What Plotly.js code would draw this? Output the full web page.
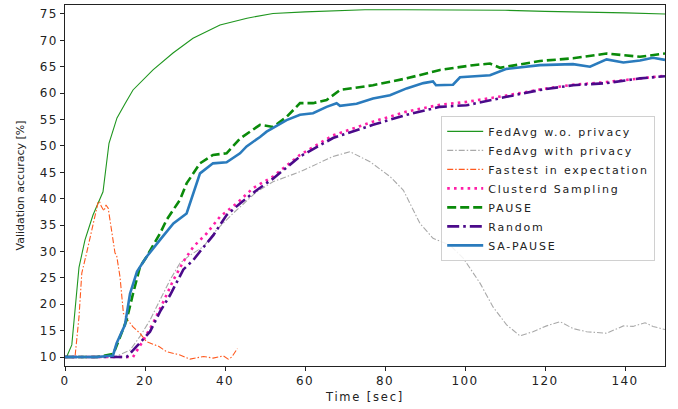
<!DOCTYPE html>
<html><head><meta charset="utf-8">
<script src="https://cdn.plot.ly/plotly-3.0.1.min.js"></script>
<style>
html,body{margin:0;padding:0;background:#fff}#c{width:678px;height:409px}
.legendtext{letter-spacing:1.8px}
.xtick text,.ytick text{letter-spacing:1.3px}
.xtitle{letter-spacing:1.8px}
</style>
</head><body><div id="c"></div>
<script>
// FedAvg w.o. privacy
const noPrivX = [0.4,1.7,3.5,5,7,9.5,11,13,15,17,22,27,32,38.75,45.5,52,60,67,75,85,100,110,120,130,140,150];
const noPrivY = [10,12.3,27,32.2,36.9,41.3,50.5,55.3,58,60.6,64.4,67.6,70.4,72.9,74.2,75.1,75.4,75.6,75.8,75.8,75.8,75.7,75.5,75.4,75.2,75.0];
// FedAvg with privacy
const privX = [0,5,10,13,16.25,18.75,21.25,23.75,26.25,28.75,31.25,34.6,37.9,42,47.9,52,58.75,67,71.25,76.25,81.25,84.6,88.75,92,96.25,99.6,103.75,107,110.4,113.75,117,120.4,123.75,127,130.4,135.4,139.6,142,145,147,150];
const privY = [10,10,10,10.2,11.3,13.9,17,20.8,24.6,27.8,29.3,30.9,34.1,37.2,41.3,43.2,45.1,48,48.9,47,44.2,41.6,35.3,32.5,31.2,28.7,24,19.5,16.1,14,14.8,15.9,16.7,15.4,14.8,14.5,15.9,15.8,16.5,15.8,15.2];
// Fastest in expectation
const fastX = [0,2.5,3.5,4.2,5.4,6.7,8.3,8.6,9.1,9.75,10.25,10.8,11.7,12.5,12.9,13.75,14.6,15.4,17,18.75,20.4,23.5,25.4,28.75,31.25,34.6,37,39.6,40.8,41.7,43.1];
const fastY = [10,10,17.6,25.9,29.7,34,39.4,39.5,38.5,37.7,38.8,38.2,33.5,29.7,29.3,25.2,18.3,17.3,15.7,14.5,12.9,12,11,10.4,9.6,10.1,9.8,10.2,9.6,10,11.6];
// Clusterd Sampling
const clusX = [0,10,17,19.6,22,24.6,27.1,29.6,32.1,35.4,38.75,42.9,47,52,58.75,67,77,85.4,93.75,100,110,118.75,127,135.4,143.75,150];
const clusY = [10,10,10,13.2,16.4,20.5,24.6,28.1,30.9,33.4,36.6,39.1,42,44.2,48.3,52,54.6,56.5,57.8,58.3,59.5,60.7,61.6,62.1,62.8,63.3];
// PAUSE
const pauseX = [0,8,12.1,13.75,15.4,17,18.75,20.4,23.75,25.4,28.75,30.4,33.75,37,40.4,43.75,48.75,52,55.4,58.75,62,65.4,68.75,77,85.4,93.75,102,106.25,108.75,118.75,127,135.4,143.75,150];
const pauseY = [10,10,10.6,13.9,17,22,27.1,29,33.4,36,39.8,42.9,46.7,48.3,48.6,51.4,54,53.6,55.5,58.1,58.1,58.7,60.6,61.5,62.8,64.4,65.3,65.6,64.8,66.1,66.6,67.5,66.9,67.5];
// Random
const randX = [0,10,15.4,17.9,21.25,23.75,26.25,29.6,32.1,33.75,37.1,40.4,43.75,47.9,52,58.75,67,77,85.4,93.75,100.4,110.4,118.75,127,135.4,143.75,150];
const randY = [10,10,10,12,14.8,18.6,21.7,26.6,28.4,30,33.1,36.9,39.1,41.6,43.8,48,51.5,54,55.9,57.4,57.7,59.3,60.6,61.5,61.9,62.8,63.2];
// SA-PAUSE
const saX = [0,8,12,12.9,15,16.25,18,20.4,23.75,27.1,30.4,32,33.75,37,40.4,43.75,45.4,48.75,50.4,55.4,58.75,62,65.4,67.9,68.75,72.9,77,81.25,85.4,89.6,92,92.75,97,98.75,106.25,110.4,118.75,127,131.25,135.4,139.6,143.75,147,150];
const saY = [10,10,10.3,12.6,16.1,22,26.2,29,32.2,35.3,37.2,41,44.8,46.7,46.9,48.6,49.9,51.7,52.7,54.9,55.9,56.2,57.4,58.1,57.6,58,59,59.6,60.9,61.9,62.2,61.5,61.6,63,63.4,64.6,65.3,65.5,65,66.4,65.8,66.2,66.7,66.3];

const xTicks = [0,20,40,60,80,100,120,140];
const yTicks = [10,15,20,25,30,35,40,45,50,55,60,65,70,75];

const traces = [
  {x: noPrivX, y: noPrivY, name: 'FedAvg w.o. privacy', line: {color: '#1f961f', width: 1.1}},
  {x: privX, y: privY, name: 'FedAvg with privacy', line: {color: '#a9a9a9', width: 1.1, dash: '6px,2px,1.5px,2px'}},
  {x: fastX, y: fastY, name: 'Fastest in expectation', line: {color: '#ff5a1f', width: 1.1, dash: '6px,2px,1.5px,2px'}},
  {x: clusX, y: clusY, name: 'Clusterd Sampling', line: {color: '#ff1fa8', width: 2.6, dash: '2.6px,4.2px'}},
  {x: pauseX, y: pauseY, name: 'PAUSE', line: {color: '#0a8a0a', width: 2.6, dash: '9px,4px'}},
  {x: randX, y: randY, name: 'Random', line: {color: '#4b0a8a', width: 2.6, dash: '12px,4px,2.6px,4px'}},
  {x: saX, y: saY, name: 'SA-PAUSE', line: {color: '#2a7bbd', width: 2.6}}
].map(t => Object.assign({type: 'scatter', mode: 'lines'}, t));

const axisCommon = {
  showgrid: false, zeroline: false, showline: true, mirror: true,
  linecolor: '#222', linewidth: 1, ticks: 'outside', ticklen: 4, tickcolor: '#222',
  tickfont: {family: 'DejaVu Sans', size: 12, color: '#222'}
};

const layout = {
  width: 678, height: 409,
  margin: {l: 65, r: 13, t: 5, b: 43},
  paper_bgcolor: '#fff', plot_bgcolor: '#fff',
  showlegend: true,
  xaxis: Object.assign({}, axisCommon, {range: [0, 150], tickvals: xTicks,
    title: {text: 'Time [sec]', font: {family: 'DejaVu Sans', size: 11.5, color: '#222'}, standoff: 5}}),
  yaxis: Object.assign({}, axisCommon, {range: [8.3, 76.7], tickvals: yTicks,
    title: {text: 'Validation accuracy [%]', font: {family: 'DejaVu Sans', size: 11, color: '#222'}, standoff: 12}}),
  legend: {x: 0.627, y: 0.693, xanchor: 'left', yanchor: 'top', bgcolor: 'rgba(255,255,255,0.85)',
    bordercolor: '#d0d0d0', borderwidth: 1, font: {family: 'DejaVu Sans', size: 11, color: '#222'},
    tracegroupgap: 0, itemwidth: 36}
};

Plotly.newPlot('c', traces, layout, {displayModeBar: false, staticPlot: true});
</script></body></html>
